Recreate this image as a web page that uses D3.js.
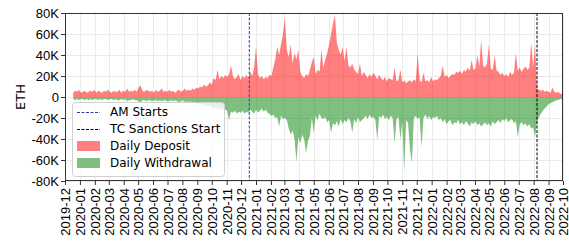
<!DOCTYPE html>
<html>
<head>
<meta charset="UTF-8">
<script src="https://cdn.jsdelivr.net/npm/d3@7"></script>
<style>
  body { margin: 0; background: #fff; }
  svg { display: block; font-family: "DejaVu Sans", sans-serif; }
  .grid line { stroke: #ebebeb; stroke-width: 1; }
  .axis text { font-size: 13px; fill: #000; }
  .axis line { stroke: #333; }
  .axis path { display: none; }
</style>
</head>
<body>
<div id="chart"></div>
<script>
// sampled every 4 days starting at the first day of data
var startDate = "2019-12-18";
var stepDays = 4;

// daily deposit, thousands of ETH
var deposit = [
  4, 6, 5, 7, 4, 5, 6, 4, 5, 6,
  5, 7, 4, 6, 5, 4, 6, 5, 7, 5,
  4, 6, 5, 5, 7, 4, 6, 5, 8, 5,
  6, 5, 7, 5, 9, 11, 6, 5, 7, 6,
  5, 6, 4, 7, 5, 6, 8, 5, 6, 5,
  7, 5, 6, 4, 6, 7, 5, 6, 8, 6,
  7, 6, 8, 7, 9, 8, 10, 9, 12, 10,
  11, 14, 12, 18, 16, 26, 17, 20, 18, 21,
  19, 22, 30, 20, 17, 19, 22, 16, 20, 18,
  21, 18, 24, 20, 28, 48, 22, 18, 20, 17,
  19, 18, 21, 20, 28, 36, 48, 40, 50, 60,
  76, 45, 38, 50, 32, 42, 36, 45, 24, 20,
  18, 22, 20, 26, 33, 38, 22, 26, 24, 45,
  28, 36, 42, 50, 60, 70, 78, 52, 45, 40,
  48, 34, 48, 30, 28, 32, 26, 24, 22, 32,
  20, 24, 21, 18, 22, 19, 23, 20, 17, 21,
  18, 16, 19, 15, 18, 17, 16, 28, 15, 16,
  26, 14, 16, 13, 15, 16, 14, 17, 15, 42,
  16, 14, 23, 15, 16, 14, 19, 15, 17, 16,
  18, 20, 30, 19, 21, 18, 20, 22, 21, 24,
  23, 25, 22, 26, 24, 28, 25, 35, 26, 27,
  40, 29, 54, 30, 28, 32, 50, 27, 26, 40,
  25, 24, 21, 23, 20, 22, 19, 24, 21, 23,
  42, 25, 28, 24, 27, 29, 26, 28, 52, 29,
  50, 8, 7, 6, 7, 5, 6, 5, 4, 9,
  5, 4, 5, 3, 3
];

// daily withdrawal, thousands of ETH (drawn below zero)
var withdrawal = [
  2, 3, 2, 3, 2, 2, 3, 2, 3, 2,
  3, 2, 2, 3, 2, 3, 2, 2, 3, 2,
  2, 3, 2, 3, 3, 2, 3, 2, 4, 3,
  3, 2, 3, 3, 4, 5, 3, 3, 4, 3,
  3, 4, 3, 3, 4, 3, 4, 3, 3, 4,
  4, 3, 4, 3, 4, 5, 4, 3, 5, 4,
  5, 4, 6, 5, 6, 7, 6, 8, 7, 8,
  9, 8, 10, 11, 9, 12, 10, 13, 11, 12,
  13, 22, 14, 15, 13, 16, 14, 15, 13, 16,
  14, 15, 12, 14, 16, 12, 15, 13, 11, 14,
  12, 15, 16, 18, 17, 20, 19, 28, 18, 21,
  20, 22, 30, 36, 32, 40, 62, 38, 44, 36,
  40, 53, 42, 37, 20, 34, 18, 22, 16, 20,
  21, 19, 24, 22, 34, 25, 27, 23, 28, 21,
  26, 22, 24, 20, 23, 34, 21, 25, 19, 24,
  22, 20, 18, 21, 17, 20, 19, 22, 41, 18,
  20, 17, 21, 19, 22, 18, 20, 44, 21, 19,
  41, 24, 72, 22, 25, 50, 63, 20, 18, 21,
  19, 48, 20, 17, 21, 18, 22, 19, 20, 18,
  22, 20, 24, 21, 26, 23, 22, 27, 24, 25,
  22, 26, 24, 27, 23, 25, 28, 24, 26, 23,
  27, 25, 28, 26, 24, 27, 25, 28, 23, 26,
  24, 22, 25, 21, 23, 20, 24, 22, 21, 25,
  23, 38, 26, 24, 27, 25, 28, 26, 30, 29,
  38, 24, 19, 16, 13, 11, 9, 7, 6, 5,
  4, 3, 3, 2, 2
];

var yTicks = [80000, 60000, 40000, 20000, 0, -20000, -40000, -60000, -80000];
var events = [
  { date: "2020-12-18", label: "AM Starts", color: "#3535b8" },
  { date: "2022-08-08", label: "TC Sanctions Start", color: "#000" }
];

var width = 569, height = 248;
var margin = { top: 13, right: 6, bottom: 67, left: 65 };

var parse = d3.utcParse("%Y-%m-%d");
var t0 = parse(startDate);
var dates = deposit.map(function (d, i) { return d3.utcDay.offset(t0, i * stepDays); });

var x = d3.scaleUtc()
  .domain([parse("2019-12-01"), parse("2022-10-01")])
  .range([margin.left, width - margin.right]);

var y = d3.scaleLinear()
  .domain([-80000, 80000])
  .range([height - margin.bottom, margin.top]);

var svg = d3.select("#chart").append("svg")
  .attr("width", width)
  .attr("height", height);

var monthTicks = d3.utcMonth.range(parse("2019-12-01"), d3.utcDay.offset(parse("2022-10-01"), 1));

// grid
var grid = svg.append("g").attr("class", "grid");
grid.selectAll(".vx").data(monthTicks).join("line")
  .attr("x1", function (d) { return Math.round(x(d)) + 0.5; })
  .attr("x2", function (d) { return Math.round(x(d)) + 0.5; })
  .attr("y1", margin.top).attr("y2", height - margin.bottom);
grid.selectAll(".hy").data(yTicks).join("line")
  .attr("x1", margin.left).attr("x2", width - margin.right)
  .attr("y1", function (d) { return Math.round(y(d)) + 0.5; })
  .attr("y2", function (d) { return Math.round(y(d)) + 0.5; });

svg.append("clipPath").attr("id", "clip").append("rect")
  .attr("x", margin.left).attr("y", margin.top)
  .attr("width", width - margin.left - margin.right)
  .attr("height", height - margin.top - margin.bottom);

var plot = svg.append("g").attr("clip-path", "url(#clip)");

var areaUp = d3.area()
  .x(function (d, i) { return x(dates[i]); })
  .y0(y(0))
  .y1(function (d) { return y(d * 1000); });

var areaDown = d3.area()
  .x(function (d, i) { return x(dates[i]); })
  .y0(y(0))
  .y1(function (d) { return y(-d * 1000); });

plot.append("path").attr("d", areaUp(deposit))
  .attr("fill", "#ff0000").attr("fill-opacity", 0.5);
plot.append("path").attr("d", areaDown(withdrawal))
  .attr("fill", "#008000").attr("fill-opacity", 0.5);

// event lines
plot.selectAll(".ev").data(events).join("line")
  .attr("x1", function (d) { return x(parse(d.date)); })
  .attr("x2", function (d) { return x(parse(d.date)); })
  .attr("y1", margin.top).attr("y2", height - margin.bottom)
  .attr("stroke", function (d) { return d.color; })
  .attr("stroke-width", 1)
  .attr("stroke-dasharray", "3,1.5");

// axes
var xAxis = d3.axisBottom(x)
  .tickValues(monthTicks)
  .tickSize(4)
  .tickPadding(3)
  .tickFormat(d3.utcFormat("%Y-%m"));

svg.append("g")
  .attr("class", "x axis")
  .attr("transform", "translate(0," + (height - margin.bottom) + ")")
  .call(xAxis)
  .selectAll("text")
  .attr("transform", "rotate(-90)")
  .attr("text-anchor", "end")
  .attr("dy", "0.35em")
  .attr("x", -7)
  .attr("y", 0);

var yAxis = d3.axisLeft(y)
  .tickValues(yTicks)
  .tickSize(4)
  .tickPadding(2)
  .tickFormat(function (d) { return d === 0 ? "0" : (d / 1000) + "K"; });

svg.append("g")
  .attr("class", "y axis")
  .attr("transform", "translate(" + margin.left + ",0)")
  .call(yAxis);

// frame
svg.append("rect")
  .attr("x", margin.left + 0.5).attr("y", margin.top + 0.5)
  .attr("width", width - margin.left - margin.right - 1)
  .attr("height", height - margin.top - margin.bottom - 1)
  .attr("fill", "none").attr("stroke", "#333").attr("stroke-width", 1);

// y label
svg.append("text")
  .attr("transform", "translate(20," + y(0) + ") rotate(-90)")
  .attr("text-anchor", "middle")
  .attr("dy", "0.35em")
  .style("font-size", "13px")
  .text("ETH");

// legend
var lg = svg.append("g").attr("transform", "translate(72,102)");
lg.append("rect")
  .attr("x", 0.5).attr("y", 0.5).attr("width", 152).attr("height", 74)
  .attr("rx", 3)
  .attr("fill", "#fff").attr("fill-opacity", 0.8)
  .attr("stroke", "#d0d0d0");

var items = [
  { label: events[0].label, type: "line", color: events[0].color },
  { label: events[1].label, type: "line", color: events[1].color },
  { label: "Daily Deposit", type: "patch", color: "#ff0000" },
  { label: "Daily Withdrawal", type: "patch", color: "#008000" }
];

items.forEach(function (it, i) {
  var cy = 10 + i * 17;
  if (it.type === "line") {
    lg.append("line")
      .attr("x1", 5).attr("x2", 28).attr("y1", cy + 0.5).attr("y2", cy + 0.5)
      .attr("stroke", it.color).attr("stroke-width", 1)
      .attr("stroke-dasharray", "3,1.5");
  } else {
    lg.append("rect")
      .attr("x", 5).attr("y", cy - 5).attr("width", 23).attr("height", 10)
      .attr("fill", it.color).attr("fill-opacity", 0.5);
  }
  lg.append("text")
    .attr("x", 38).attr("y", cy)
    .attr("dy", "0.35em")
    .style("font-size", "12px")
    .text(it.label);
});
</script>
</body>
</html>
